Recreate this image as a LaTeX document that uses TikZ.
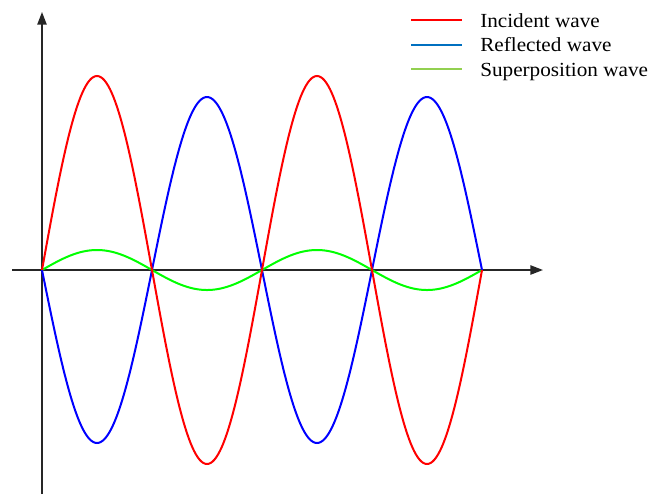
\documentclass[tikz,border=0pt]{standalone}
\usepackage{fontspec}
\setmainfont{Liberation Serif}[FakeStretch=1.06]
\usetikzlibrary{arrows.meta}
\definecolor{Axis}{HTML}{262626}
\definecolor{IncRed}{HTML}{FF0000}
\definecolor{RefBlue}{HTML}{0000FF}
\definecolor{SupGreen}{HTML}{00FF00}
\definecolor{KeyBlue}{HTML}{0070C0}
\definecolor{KeyGreen}{HTML}{92D050}
\begin{document}
\begin{tikzpicture}[x=0.75pt, y=-0.75pt,
    ax/.style={draw=Axis, line width=1.1pt, -{Triangle[length=9.5pt, width=7pt]}},
    wave/.style={line width=1.5pt, domain=42:482, samples=241, smooth},
    keyline/.style={line width=1.5pt},
    keytxt/.style={anchor=base west, inner sep=0pt, font=\fontsize{15}{18}\selectfont}]
    \useasboundingbox (0,0) rectangle (650,494);
    % axes
    \coordinate (O)  at (42,270);
    \coordinate (xl) at (12,270);
    \coordinate (xr) at (543,270);
    \coordinate (yb) at (42,494);
    \coordinate (yt) at (42,12);
    \draw[ax] (xl) -- (xr);
    \draw[ax] (yb) -- (yt);
    % waves, half period 110px
    \draw[wave, SupGreen] plot (\x, {270-20*sin((\x-42)/110*180)});
    \draw[wave, RefBlue]  plot (\x, {270+173*sin((\x-42)/110*180)});
    \draw[wave, IncRed]   plot (\x, {270-194*sin((\x-42)/110*180)});
    % legend
    \node[keytxt] (inc) at (480,27) {Incident wave};
    \node[keytxt] (ref) at (480,51.5) {Reflected wave};
    \node[keytxt] (sup) at (480,76) {Superposition wave};
    \draw[keyline, IncRed]   (411,20) -- (462,20);
    \draw[keyline, KeyBlue]  (411,44.5) -- (462,44.5);
    \draw[keyline, KeyGreen] (411,69) -- (462,69);
\end{tikzpicture}
\end{document}
